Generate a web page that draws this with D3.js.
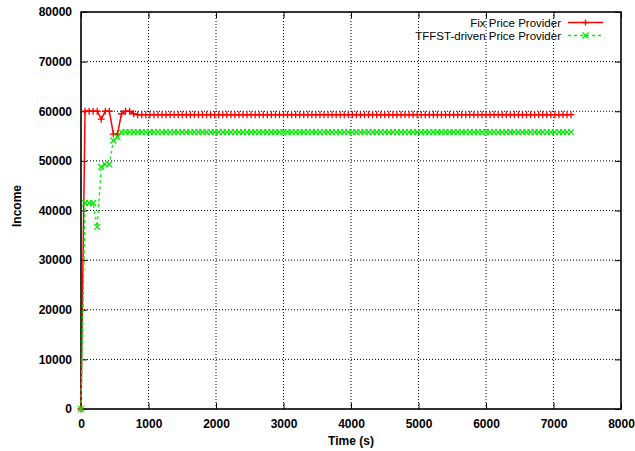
<!DOCTYPE html>
<html>
<head>
<meta charset="utf-8">
<script src="https://cdn.jsdelivr.net/npm/d3@7"></script>
<style>
  body { margin: 0; background: #fff; }
  svg { font-family: "Liberation Sans", Arial, sans-serif; }
</style>
</head>
<body>
<div id="chart"></div>
<script>
// sampling grid of the simulation (one sample per minute)
const times = d3.range(0, 7261, 60);

// income, one value per sample
const fixIncome = [
  0, 60000, 60000, 60000, 60000, 58400, 60000, 60000, 55400, 55400,
  59500, 60000, 60000, 59500, 59300, 59300, 59300, 59300, 59300, 59300,
  59300, 59300, 59300, 59300, 59300, 59300, 59300, 59300, 59300, 59300,
  59300, 59300, 59300, 59300, 59300, 59300, 59300, 59300, 59300, 59300,
  59300, 59300, 59300, 59300, 59300, 59300, 59300, 59300, 59300, 59300,
  59300, 59300, 59300, 59300, 59300, 59300, 59300, 59300, 59300, 59300,
  59300, 59300, 59300, 59300, 59300, 59300, 59300, 59300, 59300, 59300,
  59300, 59300, 59300, 59300, 59300, 59300, 59300, 59300, 59300, 59300,
  59300, 59300, 59300, 59300, 59300, 59300, 59300, 59300, 59300, 59300,
  59300, 59300, 59300, 59300, 59300, 59300, 59300, 59300, 59300, 59300,
  59300, 59300, 59300, 59300, 59300, 59300, 59300, 59300, 59300, 59300,
  59300, 59300, 59300, 59300, 59300, 59300, 59300, 59300, 59300, 59300,
  59300, 59300
];
const tffstIncome = [
  0, 41500, 41500, 41500, 36700, 48800, 49300, 49300, 54100, 54800,
  55800, 55800, 55800, 55800, 55800, 55800, 55800, 55800, 55800, 55800,
  55800, 55800, 55800, 55800, 55800, 55800, 55800, 55800, 55800, 55800,
  55800, 55800, 55800, 55800, 55800, 55800, 55800, 55800, 55800, 55800,
  55800, 55800, 55800, 55800, 55800, 55800, 55800, 55800, 55800, 55800,
  55800, 55800, 55800, 55800, 55800, 55800, 55800, 55800, 55800, 55800,
  55800, 55800, 55800, 55800, 55800, 55800, 55800, 55800, 55800, 55800,
  55800, 55800, 55800, 55800, 55800, 55800, 55800, 55800, 55800, 55800,
  55800, 55800, 55800, 55800, 55800, 55800, 55800, 55800, 55800, 55800,
  55800, 55800, 55800, 55800, 55800, 55800, 55800, 55800, 55800, 55800,
  55800, 55800, 55800, 55800, 55800, 55800, 55800, 55800, 55800, 55800,
  55800, 55800, 55800, 55800, 55800, 55800, 55800, 55800, 55800, 55800,
  55800, 55800
];

const seriesNames = ["Fix Price Provider", "TFFST-driven Price Provider"];
const xTicks = [0, 1000, 2000, 3000, 4000, 5000, 6000, 7000, 8000];
const yTicks = [0, 10000, 20000, 30000, 40000, 50000, 60000, 70000, 80000];

const width = 635, height = 451;
const margin = {top: 12, right: 14, bottom: 42, left: 81};

let svg = d3.select("#chart").append("svg")
    .attr("width", width)
    .attr("height", height);

let x = d3.scaleLinear().domain([0, 8000]).range([margin.left, width - margin.right]);
let y = d3.scaleLinear().domain([0, 80000]).range([height - margin.bottom, margin.top]);

//GRID//////////////////////////////////////////////
svg.append("g").selectAll("line")
    .data(xTicks.slice(1, -1))
    .join("line")
    .attr("x1", d => x(d)).attr("x2", d => x(d))
    .attr("y1", y(0)).attr("y2", y(80000))
    .attr("stroke", "#000").attr("stroke-width", 1)
    .attr("stroke-dasharray", "1,2");

svg.append("g").selectAll("line")
    .data(yTicks.slice(1, -1))
    .join("line")
    .attr("y1", d => y(d)).attr("y2", d => y(d))
    .attr("x1", x(0)).attr("x2", x(8000))
    .attr("stroke", "#000").attr("stroke-width", 1)
    .attr("stroke-dasharray", "1,2");

//AXES (ticks inward, mirrored)//////////////////////
let tickLen = 6;
let axB = svg.append("g").attr("transform", `translate(0,${y(0)})`)
    .call(d3.axisBottom(x).tickValues(xTicks).tickSize(-tickLen).tickPadding(10).tickFormat(d3.format("d")));
let axT = svg.append("g").attr("transform", `translate(0,${y(80000)})`)
    .call(d3.axisTop(x).tickValues(xTicks).tickSize(-tickLen).tickFormat(""));
let axL = svg.append("g").attr("transform", `translate(${x(0)},0)`)
    .call(d3.axisLeft(y).tickValues(yTicks).tickSize(-tickLen).tickPadding(9).tickFormat(d3.format("d")));
let axR = svg.append("g").attr("transform", `translate(${x(8000)},0)`)
    .call(d3.axisRight(y).tickValues(yTicks).tickSize(-tickLen).tickFormat(""));

[axB, axT, axL, axR].forEach(a => {
    a.select(".domain").remove();
    a.selectAll(".tick line").attr("stroke", "#000").attr("stroke-width", 1);
    a.selectAll("text")
        .attr("fill", "#000")
        .style("font-family", "'Liberation Sans', Arial, sans-serif")
        .style("font-size", "12px")
        .style("font-weight", "bold");
});

// frame
svg.append("rect")
    .attr("x", x(0)).attr("y", y(80000))
    .attr("width", x(8000) - x(0)).attr("height", y(0) - y(80000))
    .attr("fill", "none").attr("stroke", "#000").attr("stroke-width", 1.6);

// axis titles
svg.append("text")
    .attr("x", (x(0) + x(8000)) / 2).attr("y", 445)
    .attr("text-anchor", "middle")
    .style("font-size", "12px").style("font-weight", "bold")
    .text("Time (s)");
svg.append("text")
    .attr("transform", "translate(21,206) rotate(-90)")
    .attr("text-anchor", "middle")
    .style("font-size", "12px").style("font-weight", "bold")
    .text("Income");

//SERIES//////////////////////////////////////////////
const red = "#ff0000", green = "#00ee00";
let fixData = times.map((t, i) => [t, fixIncome[i]]);
let tffstData = times.map((t, i) => [t, tffstIncome[i]]);

let line = d3.line().x(d => x(d[0])).y(d => y(d[1]));

function plusPath(cx, cy, r) {
    return `M${cx - r},${cy}H${cx + r}M${cx},${cy - r}V${cy + r}`;
}
function crossPath(cx, cy, r) {
    return `M${cx - r},${cy - r}L${cx + r},${cy + r}M${cx - r},${cy + r}L${cx + r},${cy - r}`;
}

svg.append("path").datum(fixData)
    .attr("d", line).attr("fill", "none")
    .attr("stroke", red).attr("stroke-width", 1.5);
svg.append("g").selectAll("path")
    .data(fixData).join("path")
    .attr("d", d => plusPath(x(d[0]), y(d[1]), 3.5))
    .attr("stroke", red).attr("stroke-width", 1.3).attr("fill", "none");

svg.append("path").datum(tffstData)
    .attr("d", line).attr("fill", "none")
    .attr("stroke", green).attr("stroke-width", 1.3)
    .attr("stroke-dasharray", "3,3");
svg.append("g").selectAll("path")
    .data(tffstData).join("path")
    .attr("d", d => crossPath(x(d[0]), y(d[1]), 3))
    .attr("stroke", green).attr("stroke-width", 1.3).attr("fill", "none");

//LEGEND//////////////////////////////////////////////
let legend = svg.append("g");
let rows = [
    {name: seriesNames[0], color: red, dash: null, mark: plusPath, ly: 22.5},
    {name: seriesNames[1], color: green, dash: "3,3", mark: crossPath, ly: 35.5}
];
rows.forEach(r => {
    legend.append("text")
        .attr("x", 561).attr("y", r.ly + 4)
        .attr("text-anchor", "end")
        .style("font-size", "11.5px")
        .text(r.name);
    legend.append("line")
        .attr("x1", 568).attr("x2", 603).attr("y1", r.ly).attr("y2", r.ly)
        .attr("stroke", r.color).attr("stroke-width", 1.3)
        .attr("stroke-dasharray", r.dash);
    legend.append("path")
        .attr("d", r.mark(585.5, r.ly, 3))
        .attr("stroke", r.color).attr("stroke-width", 1.3).attr("fill", "none");
});
</script>
</body>
</html>
